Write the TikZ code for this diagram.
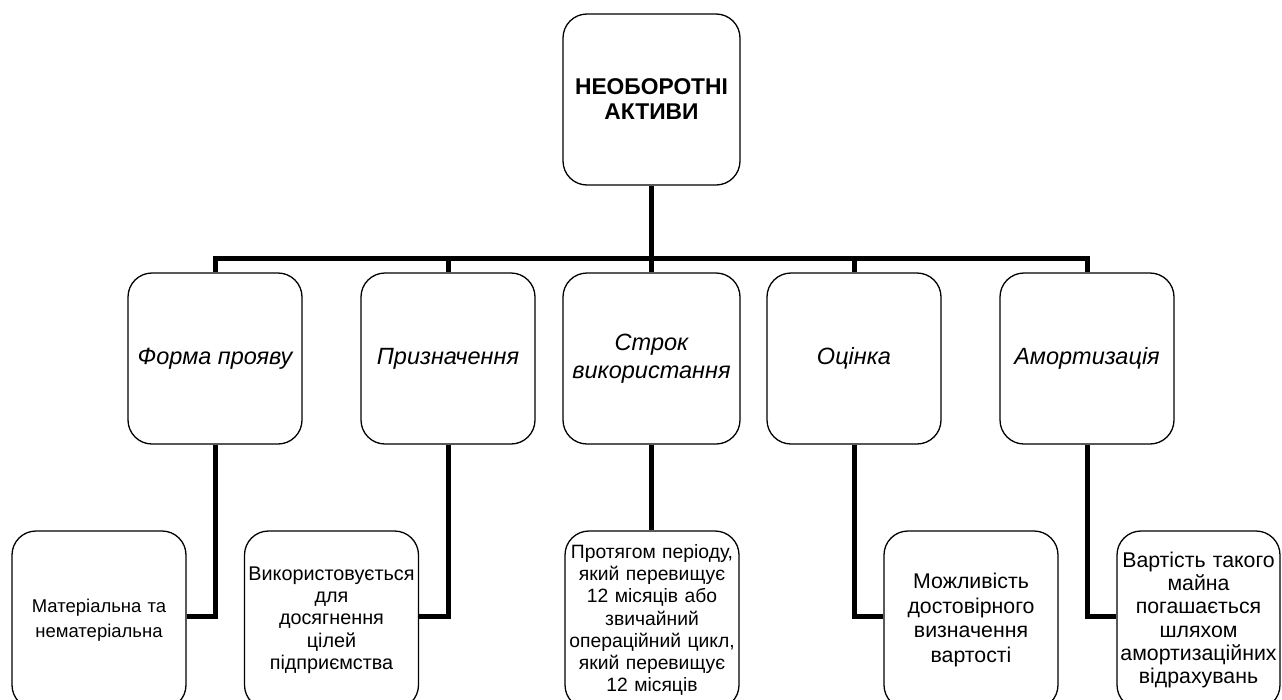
\documentclass[tikz,border=0pt]{standalone}
\usepackage{fontspec}
\setmainfont{Liberation Sans}
\begin{document}
\begin{tikzpicture}[x=1pt,y=-1pt,
  box/.style={draw=black, line width=1.3pt, rounded corners=24pt, fill=white, align=center, inner sep=1pt},
  topbox/.style={box, minimum width=177pt, minimum height=171pt, font=\fontsize{22.8}{25}\selectfont\bfseries},
  midbox/.style={box, minimum width=174pt, minimum height=171pt, font=\fontsize{23.5}{28}\selectfont\itshape},
  lowbox/.style={box, minimum width=174pt, minimum height=178pt, text width=172pt},
  conn/.style={line width=5pt}]
\useasboundingbox (0,0) rectangle (1282,699);
\clip (0,0) rectangle (1282,699);
\node[topbox] (top) at (651.5,99.5) {НЕОБОРОТНІ\\АКТИВИ};
\node[midbox] (m1) at (215,358.5) {Форма прояву};
\node[midbox] (m2) at (448,358.5) {Призначення};
\node[midbox, minimum width=177pt] (m3) at (651.5,358.5) {Строк\\використання};
\node[midbox] (m4) at (854,358.5) {Оцінка};
\node[midbox] (m5) at (1087,358.5) {Амортизація};
\node[lowbox, font=\fontsize{18.5}{25}\selectfont] (b1) at (99,620) {Матеріальна та\\нематеріальна};
\node[lowbox, font=\fontsize{19.8}{22.3}\selectfont] (b2) at (331.5,620) {Використовується\\для\\досягнення\\цілей\\підприємства};
\node[lowbox, font=\fontsize{19.3}{22.3}\selectfont] (b3) at (652,620) {Протягом періоду,\\який перевищує\\12 місяців або\\звичайний\\операційний цикл,\\який перевищує\\12 місяців};
\node[lowbox, font=\fontsize{21.3}{24.8}\selectfont] (b4) at (971,620) {Можливість\\достовірного\\визначення\\вартості};
\node[lowbox, minimum width=163pt, text width=160pt, font=\fontsize{21.3}{23.2}\selectfont] (b5) at (1198.5,620) {Вартість такого\\майна\\погашається\\шляхом\\амортизаційних\\відрахувань};
\coordinate (bus) at (651.5,258);
\coordinate (elbow) at (0,616.5);
\draw[conn] (top.south) -- (bus);
\draw[conn] (m1.north) |- (bus) -| (m5.north);
\draw[conn] (m2.north) -- (m2.north |- bus);
\draw[conn] (m3.north) -- (bus);
\draw[conn] (m4.north) -- (m4.north |- bus);
\draw[conn] (m1.south) |- (b1.east |- elbow);
\draw[conn] (m2.south) |- (b2.east |- elbow);
\draw[conn] (m3.south) -- (m3.south |- b3.north);
\draw[conn] (m4.south) |- (b4.west |- elbow);
\draw[conn] (m5.south) |- (b5.west |- elbow);
\end{tikzpicture}
\end{document}
